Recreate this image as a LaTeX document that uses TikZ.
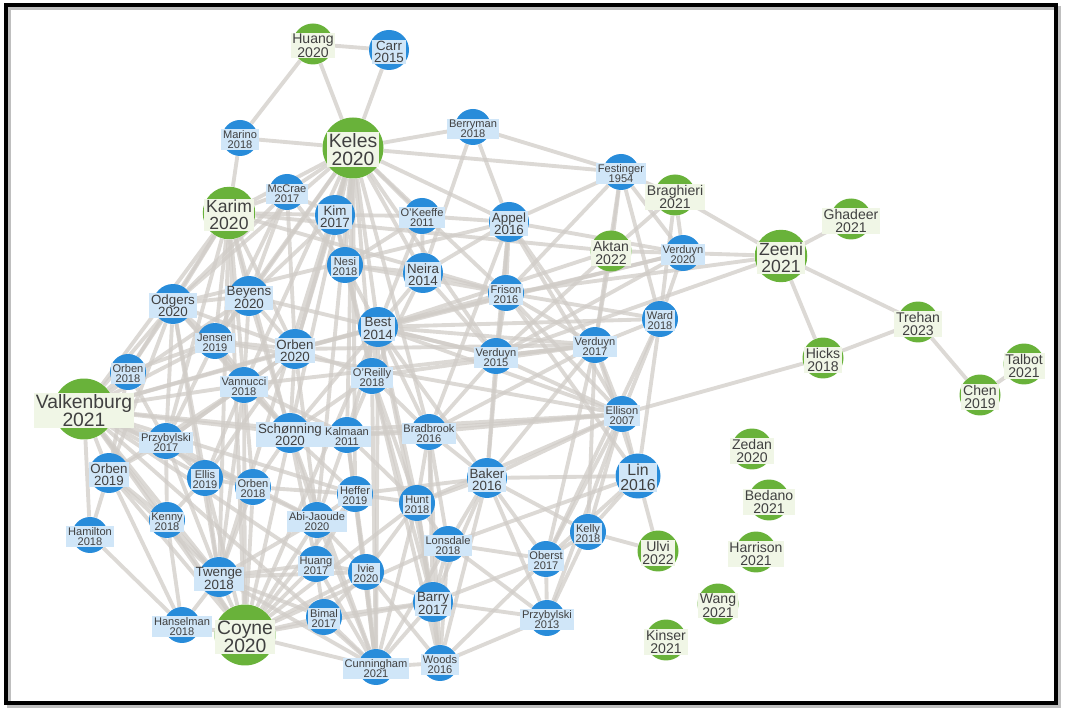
\documentclass[tikz,border=0pt]{standalone}
\usepackage{fontspec}
\setmainfont{Liberation Sans}
\usepackage{tikz}
\usetikzlibrary{backgrounds}

\definecolor{dblue}{RGB}{40,140,218}
\definecolor{lblue}{RGB}{208,230,248}
\definecolor{dgreen}{RGB}{105,178,58}
\definecolor{lgreen}{RGB}{240,246,230}
\definecolor{edgegray}{RGB}{208,204,199}

\begin{document}
\begin{tikzpicture}[x=0.02cm, y=-0.02cm,
  tag/.style={rectangle, inner xsep=1pt, inner ysep=0.6pt, align=center,
              text=black!75, yshift=-1pt},
  disc/.style={circle, inner sep=0pt, minimum size=#1},
  bsmall/.style={disc=0.72cm, fill=dblue,
    label={[tag, fill=lblue, font=\fontsize{6.3}{6}\selectfont]center:#1}},
  bmid/.style={disc=0.8cm, fill=dblue,
    label={[tag, fill=lblue, font=\fontsize{7.6}{7.2}\selectfont]center:#1}},
  bbig/.style={disc=0.9cm, fill=dblue,
    label={[tag, fill=lblue, font=\fontsize{9}{8.6}\selectfont]center:#1}},
  gsmall/.style={disc=0.82cm, fill=dgreen,
    label={[tag, fill=lgreen, font=\fontsize{8}{7.6}\selectfont]center:#1}},
  gmid/.style={disc=1.05cm, fill=dgreen,
    label={[tag, fill=lgreen, font=\fontsize{10}{9.6}\selectfont]center:#1}},
  gbig/.style={disc=1.22cm, fill=dgreen,
    label={[tag, fill=lgreen, font=\fontsize{11}{10.6}\selectfont]center:#1}},
  link/.style={line width=2.2pt, draw=edgegray, opacity=0.75}
]
\useasboundingbox (0,0) rectangle (1067,715);

% frame
\draw[black!25, line width=2.5pt] (9,8) rectangle (1059,706);
\draw[line width=2.3pt] (6,5) rectangle (1056,703);

% review papers (green)
\node[gsmall={Huang\\2020}]     (hua20) at (313,44)  {};
\node[gbig={Keles\\2020}]       (kel)   at (353,148) {};
\node[gmid={Karim\\2020}]       (kar)   at (229,213) {};
\node[gbig={Valkenburg\\2021}]  (val)   at (84,409)  {};
\node[gbig={Coyne\\2020}]       (coy)   at (245,635) {};
\node[gsmall={Braghieri\\2021}] (bra)   at (675,195) {};
\node[gsmall={Aktan\\2022}]     (akt)   at (611,251) {};
\node[gmid={Zeeni\\2021}]       (zee)   at (781,256) {};
\node[gsmall={Ghadeer\\2021}]   (gha)   at (851,219) {};
\node[gsmall={Trehan\\2023}]    (tre)   at (918,322) {};
\node[gsmall={Hicks\\2018}]     (hic)   at (823,358) {};
\node[gsmall={Talbot\\2021}]    (tal)   at (1024,364) {};
\node[gsmall={Chen\\2019}]      (che)   at (980,395) {};
\node[gsmall={Zedan\\2020}]     (zed)   at (752,449) {};
\node[gsmall={Bedano\\2021}]    (bed)   at (769,500) {};
\node[gsmall={Harrison\\2021}]  (har)   at (756,552) {};
\node[gsmall={Ulvi\\2022}]      (ulv)   at (658,551) {};
\node[gsmall={Wang\\2021}]      (wan)   at (718,604) {};
\node[gsmall={Kinser\\2021}]    (kin)   at (666,640) {};

% cited papers (blue)
\node[bmid={Carr\\2015}]          (car)    at (389,50)  {};
\node[bsmall={Marino\\2018}]      (mar)    at (240,138) {};
\node[bsmall={Berryman\\2018}]    (ber)    at (473,127) {};
\node[bsmall={Festinger\\1954}]   (fes)    at (621,172) {};
\node[bsmall={McCrae\\2017}]      (mcc)    at (287,192) {};
\node[bmid={Kim\\2017}]           (kim)    at (335,215) {};
\node[bsmall={O'Keeffe\\2011}]    (oke)    at (422,216) {};
\node[bmid={Appel\\2016}]         (app)    at (509,222) {};
\node[bsmall={Verduyn\\2020}]     (ver20)  at (683,253) {};
\node[bsmall={Nesi\\2018}]        (nes)    at (345,265) {};
\node[bmid={Neira\\2014}]         (nei)    at (423,273) {};
\node[bsmall={Frison\\2016}]      (fri)    at (506,293) {};
\node[bmid={Odgers\\2020}]        (odg)    at (173,304) {};
\node[bmid={Beyens\\2020}]        (bey)    at (249,296) {};
\node[bmid={Best\\2014}]          (bes)    at (378,327) {};
\node[bsmall={Jensen\\2019}]      (jen)    at (215,341) {};
\node[bmid={Orben\\2020}]         (orb20)  at (295,349) {};
\node[bsmall={Ward\\2018}]        (war)    at (660,319) {};
\node[bsmall={Verduyn\\2017}]     (ver17)  at (595,345) {};
\node[bsmall={Verduyn\\2015}]     (ver15)  at (496,356) {};
\node[bsmall={Orben\\2018}]       (orb18a) at (128,372) {};
\node[bsmall={O'Reilly\\2018}]    (ore)    at (372,376) {};
\node[bsmall={Vannucci\\2018}]    (van)    at (244,385) {};
\node[bsmall={Ellison\\2007}]     (ell)    at (622,414) {};
\node[bsmall={Przybylski\\2017}]  (prz17)  at (166,441) {};
\node[bmid={Schønning\\2020}]     (sch)    at (290,433) {};
\node[bsmall={Kalmaan\\2011}]     (kai)    at (347,435) {};
\node[bsmall={Bradbrook\\2016}]   (bro)    at (429,432) {};
\node[bmid={Orben\\2019}]         (orb19)  at (109,473) {};
\node[bsmall={Ellis\\2019}]       (elh)    at (205,478) {};
\node[bsmall={Orben\\2018}]       (orb18b) at (253,487) {};
\node[bsmall={Heffer\\2019}]      (hef)    at (355,494) {};
\node[bsmall={Hunt\\2018}]        (hun)    at (417,503) {};
\node[bmid={Baker\\2016}]         (bak)    at (487,478) {};
\node[bbig={Lin\\2016}]           (lin)    at (638,476) {};
\node[bsmall={Hamilton\\2018}]    (ham)    at (90,535)  {};
\node[bsmall={Kenny\\2018}]       (ken)    at (167,520) {};
\node[bsmall={Abi-Jaoude\\2020}]  (abi)    at (317,520) {};
\node[bsmall={Lonsdale\\2018}]    (lon)    at (448,544) {};
\node[bsmall={Kelly\\2018}]       (kel18)  at (588,532) {};
\node[bsmall={Oberst\\2017}]      (obe)    at (546,559) {};
\node[bmid={Twenge\\2018}]        (twe)    at (219,577) {};
\node[bsmall={Huang\\2017}]       (hua17)  at (316,564) {};
\node[bsmall={Ivie\\2020}]        (ivi)    at (366,572) {};
\node[bmid={Barry\\2017}]         (bar)    at (433,602) {};
\node[bsmall={Przybylski\\2013}]  (prz13)  at (547,618) {};
\node[bsmall={Hanselman\\2018}]   (han)    at (182,625) {};
\node[bsmall={Bimal\\2017}]       (bim)    at (324,617) {};
\node[bsmall={Cunningham\\2021}]  (cun)    at (376,667) {};
\node[bsmall={Woods\\2016}]       (woo)    at (440,663) {};

% citation links
\begin{scope}[on background layer]
\foreach \t in {car,kel,mar} \draw[link] (hua20) -- (\t);
\draw[link] (car) -- (kel);
\foreach \t in {kel,kar} \draw[link] (mar) -- (\t);
\foreach \t in {ber,fes,kar,mcc,kim,oke,app,nes,nei,bes,orb20,bey,odg,jen,ore,sch,van,kai,bro,ver15,fri,abi,hef,twe}
  \draw[link] (kel) -- (\t);
\foreach \t in {fes,nei,app} \draw[link] (ber) -- (\t);
\foreach \t in {bra,akt,ver20,ver17,app,war,fri} \draw[link] (fes) -- (\t);
\foreach \t in {zee,ver20,war,akt} \draw[link] (bra) -- (\t);
\foreach \t in {gha,tre,hic,ver20,fri,ver15} \draw[link] (zee) -- (\t);
\foreach \t in {hic,che} \draw[link] (tre) -- (\t);
\draw[link] (che) -- (tal);
\draw[link] (hic) -- (ell);
\foreach \t in {akt,war,ver15,app,bes,orb20} \draw[link] (ver20) -- (\t);
\foreach \t in {ver15,ver17,bes,kar} \draw[link] (akt) -- (\t);
\foreach \t in {ver17,ell,lin,fri,obe,bes} \draw[link] (war) -- (\t);
\foreach \t in {fri,ver15,ver17,oke,nei,bak,ell,bro,odg} \draw[link] (app) -- (\t);
\foreach \t in {ver15,ver17,nei,ell,lin,nes,kar} \draw[link] (fri) -- (\t);
\foreach \t in {ver15,ell,lin,kel18,obe,bak,bro,ore,bes,orb20,van} \draw[link] (ver17) -- (\t);
\foreach \t in {lin,kel18,obe,prz13,bak,hun,ver15,bro,sch,kai,jen} \draw[link] (ell) -- (\t);
\foreach \t in {ulv,kel18,obe,bak,lon} \draw[link] (lin) -- (\t);
\foreach \t in {ulv,obe,prz13,bak} \draw[link] (kel18) -- (\t);
\foreach \t in {hun,lon,obe,bar,ver15,bro,prz13,hef,woo} \draw[link] (bak) -- (\t);
\foreach \t in {prz13,lon,bar,woo} \draw[link] (obe) -- (\t);
\foreach \t in {lon,bar,woo} \draw[link] (prz13) -- (\t);
\foreach \t in {bar,lon,hun,ivi,ore,bro,cun} \draw[link] (woo) -- (\t);
\foreach \t in {ivi,bar,hua17,bim,twe,hun,abi,hef,lon,bes,ore,kai,sch,coy}
  \draw[link] (cun) -- (\t);
\foreach \t in {han,twe,hua17,bim,ivi,bar,abi,ken,orb19,val,sch,van,orb18b,elh,hef,hun,kar,bes,lon}
  \draw[link] (coy) -- (\t);
\foreach \t in {orb18a,odg,kar,orb19,prz17,jen,bey,van,twe,elh,ken,sch,orb20,bes,hef,orb18b,ham,kai,abi,cun,hua17}
  \draw[link] (val) -- (\t);
\foreach \t in {orb19,han} \draw[link] (ham) -- (\t);
\foreach \t in {twe,ken,orb19} \draw[link] (han) -- (\t);
\foreach \t in {ken,hua17,prz17,elh,orb18b,orb19,bim,ivi,abi,van} \draw[link] (twe) -- (\t);
\foreach \t in {orb19,prz17,elh} \draw[link] (ken) -- (\t);
\foreach \t in {kar,kim,odg,bey,orb20,jen,nes} \draw[link] (mcc) -- (\t);
\foreach \t in {odg,bey,jen,orb18a,kim,orb20,van,sch,prz17,twe} \draw[link] (kar) -- (\t);
\foreach \t in {jen,orb18a,prz17,bey,orb19,van,sch,orb20,elh,twe} \draw[link] (odg) -- (\t);
\foreach \t in {jen,orb20,van,sch,kim,ver15} \draw[link] (bey) -- (\t);
\foreach \t in {van,prz17,orb18a,sch,orb20} \draw[link] (jen) -- (\t);
\foreach \t in {sch,prz17,elh,orb18b,kai,orb19} \draw[link] (van) -- (\t);
\foreach \t in {prz17,orb19} \draw[link] (orb18a) -- (\t);
\foreach \t in {orb19,elh,orb18b} \draw[link] (prz17) -- (\t);
\foreach \t in {elh,sch,abi,hef} \draw[link] (orb18b) -- (\t);
\foreach \t in {van,sch,ore,kim,prz17,elh,abi,bes} \draw[link] (orb20) -- (\t);
\foreach \t in {kai,abi,hef,hua17,ore} \draw[link] (sch) -- (\t);
\foreach \t in {ore,bro,hef,hun,abi} \draw[link] (kai) -- (\t);
\foreach \t in {bro,nes,nei,kim,hun,bar,bes} \draw[link] (ore) -- (\t);
\foreach \t in {hun,lon,bar,ver15} \draw[link] (bro) -- (\t);
\foreach \t in {kim,nei,oke,bes} \draw[link] (nes) -- (\t);
\foreach \t in {oke,ver15,bes} \draw[link] (nei) -- (\t);
\draw[link] (kim) -- (oke);
\foreach \t in {oke,ver15,fri,sch,kai,bro,bak,ell,hun,bar} \draw[link] (bes) -- (\t);
\foreach \t in {lon,bar,ivi,hef} \draw[link] (hun) -- (\t);
\foreach \t in {hua17,bar,bim,abi} \draw[link] (ivi) -- (\t);
\foreach \t in {lon,bim} \draw[link] (bar) -- (\t);
\foreach \t in {abi,hua17,ivi} \draw[link] (hef) -- (\t);
\foreach \t in {bim,abi} \draw[link] (hua17) -- (\t);
\end{scope}
\end{tikzpicture}
\end{document}
